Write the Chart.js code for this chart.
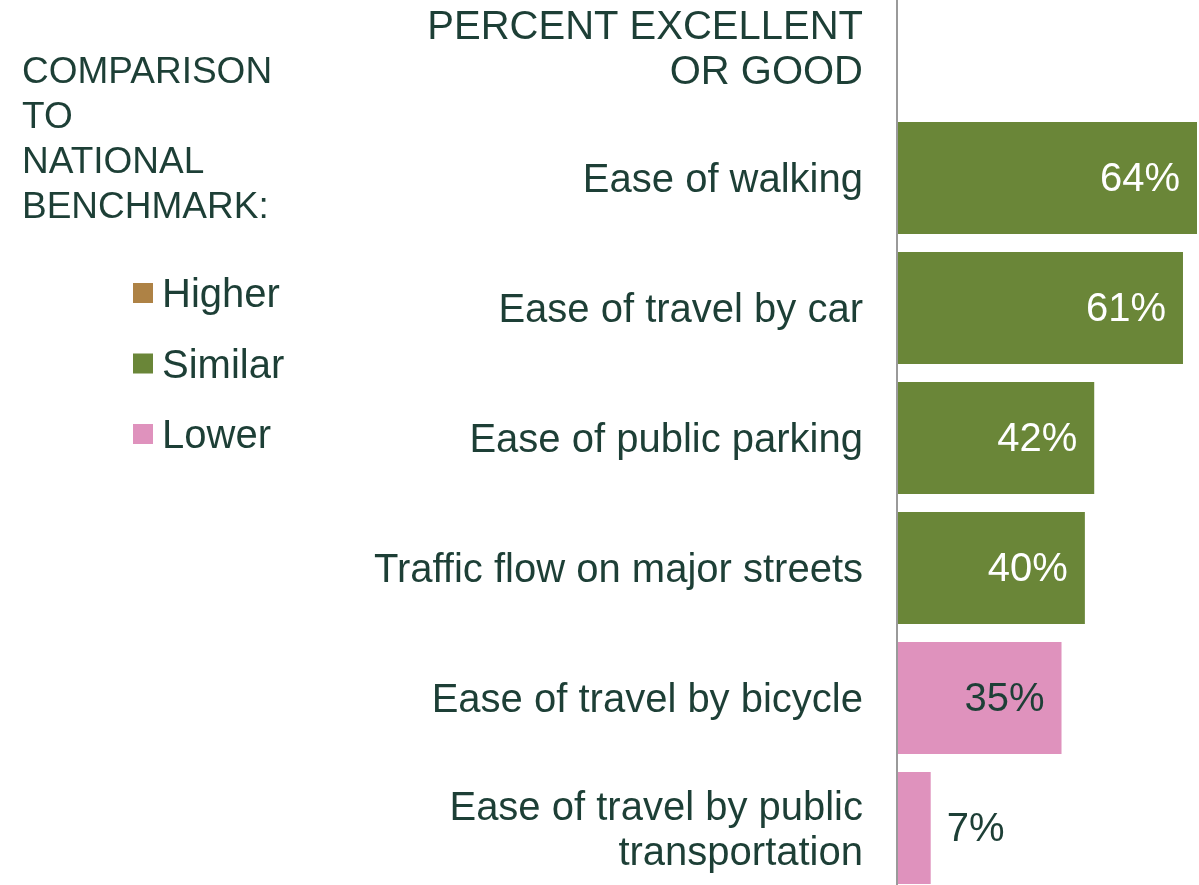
<!DOCTYPE html>
<html>
<head>
<meta charset="utf-8">
<script src="https://cdn.jsdelivr.net/npm/chart.js@4"></script>
<style>
  html, body { margin: 0; padding: 0; background: #fff; overflow: hidden; }
  #wrap { position: relative; width: 1199px; height: 894px; }
</style>
</head>
<body>
<div id="wrap"><canvas id="chart"></canvas></div>
<script>
  const categories = [
    "Ease of walking",
    "Ease of travel by car",
    "Ease of public parking",
    "Traffic flow on major streets",
    "Ease of travel by bicycle",
    ["Ease of travel by public", "transportation"],
  ];
  const percentGood = [64, 61, 42, 40, 35, 7];
  const comparison = ["Similar", "Similar", "Similar", "Similar", "Lower", "Lower"];
  const legendItems = ["Higher", "Similar", "Lower"];
  const titleLines = ["PERCENT EXCELLENT", "OR GOOD"];
  const sideTitleLines = ["COMPARISON", "TO", "NATIONAL", "BENCHMARK:"];

  const colors = { Higher: "#ae8245", Similar: "#6a8638", Lower: "#df92bd" };
  const labelColors = { Higher: "#ffffff", Similar: "#ffffff", Lower: "#1d3f36" };
  const textColor = "#1d3f36";
  const family = '"Liberation Sans", Arial, sans-serif';

  // axis line, value labels, titles and the comparison legend
  const decorations = {
    id: "decorations",
    beforeDatasetsDraw(chart) {
      const ctx = chart.ctx;
      const x0 = chart.scales.x.getPixelForValue(0);
      ctx.save();
      ctx.strokeStyle = "#9a9a9a";
      ctx.lineWidth = 2;
      ctx.beginPath();
      ctx.moveTo(x0 - 1, 0);
      ctx.lineTo(x0 - 1, chart.height);
      ctx.stroke();
      ctx.restore();
    },
    afterDatasetsDraw(chart) {
      const ctx = chart.ctx;
      const area = chart.chartArea;
      const meta = chart.getDatasetMeta(0);
      ctx.save();
      ctx.font = "40px " + family;
      ctx.textBaseline = "middle";

      meta.data.forEach((bar, i) => {
        const text = percentGood[i] + "%";
        const w = ctx.measureText(text).width;
        if (bar.x - bar.base > w + 34) {
          ctx.textAlign = "right";
          ctx.fillStyle = labelColors[comparison[i]];
          ctx.fillText(text, bar.x - 17, bar.y + 2);
        } else {
          ctx.textAlign = "left";
          ctx.fillStyle = textColor;
          ctx.fillText(text, bar.x + 16, bar.y + 2);
        }
      });

      ctx.fillStyle = textColor;
      ctx.textAlign = "right";
      titleLines.forEach((t, i) => ctx.fillText(t, area.left - 35, 28 + i * 45));

      ctx.font = "37px " + family;
      ctx.textAlign = "left";
      sideTitleLines.forEach((t, i) => ctx.fillText(t, 22, 73 + i * 45));

      ctx.font = "40px " + family;
      legendItems.forEach((name, i) => {
        const y = 293 + i * 70.5;
        ctx.fillStyle = colors[name];
        ctx.fillRect(133, y - 10, 20, 20);
        ctx.fillStyle = textColor;
        ctx.fillText(name, 162, y + 3);
      });
      ctx.restore();
    },
  };

  new Chart(document.getElementById("chart"), {
    type: "bar",
    data: {
      labels: categories,
      datasets: [
        {
          data: percentGood,
          backgroundColor: comparison.map((c) => colors[c]),
          borderWidth: 0,
          categoryPercentage: 1,
          barPercentage: 0.862,
        },
      ],
    },
    options: {
      indexAxis: "y",
      responsive: true,
      maintainAspectRatio: false,
      animation: false,
      layout: { padding: { top: 113, right: 2, bottom: 1, left: 0 } },
      plugins: {
        legend: { display: false },
        tooltip: { enabled: false },
      },
      scales: {
        x: { min: 0, max: 64, display: false },
        y: {
          grid: { display: false, drawTicks: false },
          border: { display: false },
          ticks: {
            color: textColor,
            font: { family: family, size: 40, lineHeight: 1.125 },
            padding: 35,
            labelOffset: 3,
            autoSkip: false,
          },
          afterFit(scale) {
            scale.width = 898;
            scale.paddingTop = 0;
            scale.paddingBottom = 0;
          },
        },
      },
    },
    plugins: [decorations],
  });
</script>
</body>
</html>
